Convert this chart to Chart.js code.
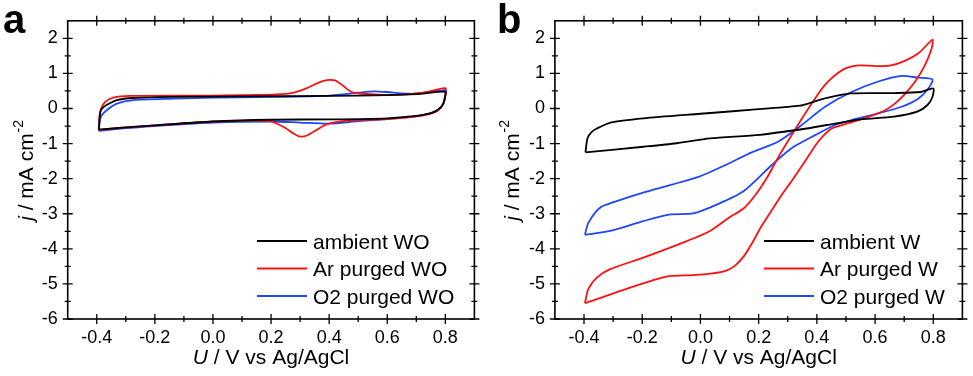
<!DOCTYPE html>
<html>
<head>
<meta charset="utf-8">
<script src="https://cdn.jsdelivr.net/npm/chart.js@4.4.0/dist/chart.umd.min.js"></script>
<style>
body { margin: 0; background: #fff; }
#wrap { position: relative; width: 973px; height: 376px; }
canvas { position: absolute; top: 0; }
</style>
</head>
<body>
<div id="wrap">
  <canvas id="chartA" width="486" height="376" style="left:0"></canvas>
  <canvas id="chartB" width="487" height="376" style="left:486px"></canvas>
</div>
<script>
// axis ticks
const xTickVals = [-0.4, -0.2, 0.0, 0.2, 0.4, 0.6, 0.8];
const xMinorVals = [-0.3, -0.1, 0.1, 0.3, 0.5, 0.7];
const yTickVals = [-6, -5, -4, -3, -2, -1, 0, 1, 2];
const yMinorVals = [-5.5, -4.5, -3.5, -2.5, -1.5, -0.5, 0.5, 1.5];

// panel a (WO)
const ambientWO_U = [-0.393, -0.39, -0.386, -0.375, -0.366, -0.331, -0.274, -0.136, 0.0, 0.2, 0.4, 0.6, 0.7, 0.8, 0.8, 0.793, 0.776, 0.747, 0.69, 0.6, 0.4, 0.2, 0.0, -0.2, -0.3, -0.393];
const ambientWO_j = [-0.6, -0.25, -0.05, 0.05, 0.1, 0.24, 0.3, 0.33, 0.34, 0.35, 0.36, 0.38, 0.41, 0.48, 0.36, 0.14, -0.03, -0.14, -0.22, -0.28, -0.31, -0.32, -0.37, -0.48, -0.54, -0.6];

const arWO_U = [-0.393, -0.39, -0.385, -0.371, -0.343, -0.285, 0.0, 0.219, 0.277, 0.323, 0.368, 0.391, 0.42, 0.449, 0.477, 0.517, 0.609, 0.724, 0.8, 0.8, 0.793, 0.776, 0.747, 0.69, 0.6, 0.5, 0.449, 0.391, 0.357, 0.323, 0.3, 0.277, 0.242, 0.196, 0.1, 0.0, -0.2, -0.3, -0.393];
const arWO_j = [-0.61, -0.19, 0.0, 0.19, 0.31, 0.36, 0.37, 0.4, 0.45, 0.58, 0.75, 0.81, 0.8, 0.64, 0.47, 0.42, 0.38, 0.45, 0.58, 0.38, 0.14, -0.05, -0.15, -0.24, -0.3, -0.33, -0.36, -0.45, -0.61, -0.77, -0.8, -0.71, -0.52, -0.36, -0.35, -0.37, -0.48, -0.54, -0.61];

const o2WO_U = [-0.393, -0.39, -0.385, -0.366, -0.331, -0.274, -0.136, 0.0, 0.2, 0.4, 0.5, 0.552, 0.6, 0.65, 0.7, 0.8, 0.8, 0.793, 0.776, 0.747, 0.69, 0.6, 0.5, 0.4, 0.3, 0.2, 0.0, -0.2, -0.3, -0.393];
const o2WO_j = [-0.64, -0.4, -0.22, -0.05, 0.14, 0.24, 0.28, 0.31, 0.33, 0.37, 0.45, 0.49, 0.47, 0.43, 0.42, 0.52, 0.4, 0.14, -0.03, -0.14, -0.23, -0.3, -0.36, -0.43, -0.4, -0.37, -0.4, -0.5, -0.56, -0.64];

// panel b (W)
const ambientW_U = [-0.395, -0.388, -0.375, -0.356, -0.309, -0.196, 0.0, 0.2, 0.342, 0.388, 0.434, 0.516, 0.665, 0.757, 0.8, 0.797, 0.78, 0.745, 0.665, 0.55, 0.434, 0.365, 0.204, 0.033, -0.082, -0.196, -0.395];
const ambientW_j = [-1.25, -0.85, -0.68, -0.57, -0.4, -0.28, -0.15, -0.02, 0.08, 0.19, 0.3, 0.43, 0.44, 0.47, 0.57, 0.33, 0.1, -0.09, -0.23, -0.31, -0.47, -0.57, -0.75, -0.85, -0.99, -1.09, -1.25];

const arW_U = [-0.397, -0.385, -0.356, -0.31, -0.196, -0.047, 0.033, 0.1, 0.148, 0.19, 0.23, 0.27, 0.313, 0.371, 0.416, 0.44, 0.47, 0.5, 0.54, 0.6, 0.65, 0.7, 0.75, 0.797, 0.794, 0.771, 0.737, 0.703, 0.668, 0.634, 0.577, 0.508, 0.451, 0.405, 0.359, 0.319, 0.28, 0.245, 0.21, 0.18, 0.15, 0.12, 0.089, 0.04, -0.025, -0.117, -0.254, -0.397];
const arW_j = [-5.55, -5.14, -4.82, -4.58, -4.25, -3.78, -3.49, -3.1, -2.85, -2.45, -1.95, -1.35, -0.76, 0.0, 0.55, 0.78, 1.0, 1.15, 1.23, 1.21, 1.22, 1.35, 1.58, 1.96, 1.7, 1.23, 0.76, 0.42, 0.14, -0.05, -0.24, -0.42, -0.57, -0.94, -1.51, -2.0, -2.45, -2.9, -3.35, -3.8, -4.2, -4.47, -4.62, -4.7, -4.75, -4.79, -5.14, -5.55];

const o2W_U = [-0.397, -0.385, -0.345, -0.288, -0.202, -0.099, -0.007, 0.084, 0.176, 0.268, 0.348, 0.428, 0.519, 0.611, 0.691, 0.748, 0.797, 0.783, 0.748, 0.691, 0.611, 0.519, 0.462, 0.394, 0.313, 0.245, 0.148, 0.056, -0.025, -0.104, -0.196, -0.31, -0.397];
const o2W_j = [-3.6, -3.26, -2.83, -2.64, -2.41, -2.17, -1.95, -1.62, -1.25, -0.94, -0.47, 0.05, 0.47, 0.77, 0.93, 0.88, 0.83, 0.57, 0.28, 0.05, -0.14, -0.33, -0.47, -0.76, -1.13, -1.61, -2.36, -2.74, -2.99, -3.02, -3.21, -3.49, -3.6];

const FONT = "'Liberation Sans', Arial, sans-serif";
const RED = '#ff1010';
const BLUE = '#1e46ff';

function pts(us, js) {
    return us.map((u, i) => ({ x: u, y: js[i] }));
}

function line(label, us, js, color) {
    return {
        label: label,
        data: pts(us, js),
        borderColor: color,
        backgroundColor: color,
        borderWidth: 1.8,
        pointRadius: 0,
        showLine: true,
        tension: 0.25,
        fill: false
    };
}

// frame, ticks on four sides, titles, legend and letter
function decoPlugin(letter, letterX, yTitleX, legendX) {
    return {
        id: 'deco' + letter,
        afterDraw(chart) {
            const ctx = chart.ctx, a = chart.chartArea;
            const xs = chart.scales.x, ys = chart.scales.y;
            ctx.save();
            ctx.strokeStyle = '#000';
            ctx.lineWidth = 1.6;
            ctx.strokeRect(a.left, a.top, a.right - a.left, a.bottom - a.top);

            ctx.lineWidth = 1.3;
            ctx.beginPath();
            const tickX = (v, L) => {
                const p = xs.getPixelForValue(v);
                ctx.moveTo(p, a.bottom - L); ctx.lineTo(p, a.bottom + L);
                ctx.moveTo(p, a.top - L); ctx.lineTo(p, a.top + L);
            };
            const tickY = (v, L) => {
                const p = ys.getPixelForValue(v);
                ctx.moveTo(a.left - L, p); ctx.lineTo(a.left + L, p);
                ctx.moveTo(a.right - L, p); ctx.lineTo(a.right + L, p);
            };
            xTickVals.forEach(v => tickX(v, 5));
            xMinorVals.forEach(v => tickX(v, 3));
            yTickVals.forEach(v => tickY(v, 5));
            yMinorVals.forEach(v => tickY(v, 3));
            ctx.stroke();

            ctx.fillStyle = '#000';
            ctx.textAlign = 'left';
            ctx.textBaseline = 'alphabetic';

            // panel letter
            ctx.font = 'bold 40px ' + FONT;
            ctx.fillText(letter, letterX, 33);

            // x title
            const cx = (a.left + a.right) / 2;
            ctx.font = 'italic 21px ' + FONT;
            const w1 = ctx.measureText('U').width;
            ctx.font = '21px ' + FONT;
            const w2 = ctx.measureText(' / V vs Ag/AgCl').width;
            let x0 = cx - (w1 + w2) / 2;
            ctx.font = 'italic 21px ' + FONT;
            ctx.fillText('U', x0, 364);
            ctx.font = '21px ' + FONT;
            ctx.fillText(' / V vs Ag/AgCl', x0 + w1, 364);

            // y title
            ctx.save();
            ctx.translate(yTitleX, (a.top + a.bottom) / 2 + 1);
            ctx.rotate(-Math.PI / 2);
            ctx.font = 'italic 21px ' + FONT;
            const j1 = ctx.measureText('j').width;
            ctx.font = '21px ' + FONT;
            const j2 = ctx.measureText(' / mA cm').width;
            ctx.font = '14px ' + FONT;
            const j3 = ctx.measureText('-2').width;
            let s = -(j1 + j2 + j3) / 2;
            ctx.font = 'italic 21px ' + FONT;
            ctx.fillText('j', s, 0);
            ctx.font = '21px ' + FONT;
            ctx.fillText(' / mA cm', s + j1, 0);
            ctx.font = '14px ' + FONT;
            ctx.fillText('-2', s + j1 + j2 + 1, -10);
            ctx.restore();

            // legend
            const rows = [241, 268.5, 296];
            chart.data.datasets.forEach((ds, i) => {
                const y = rows[i];
                ctx.strokeStyle = ds.borderColor;
                ctx.lineWidth = 2;
                ctx.beginPath();
                ctx.moveTo(legendX, y);
                ctx.lineTo(legendX + 50, y);
                ctx.stroke();
                ctx.font = '21px ' + FONT;
                ctx.fillText(ds.label, legendX + 56, y + 7.5);
            });
            ctx.restore();
        }
    };
}

function makeChart(id, datasets, areaLeft, areaRight, deco) {
    const canvas = document.getElementById(id);
    const W = canvas.width;
    return new Chart(canvas.getContext('2d'), {
        type: 'scatter',
        data: { datasets: datasets },
        options: {
            responsive: false,
            animation: false,
            devicePixelRatio: 1,
            layout: { padding: { left: 0, top: 18, right: W - areaRight, bottom: 0 } },
            plugins: { legend: { display: false }, tooltip: { enabled: false } },
            scales: {
                x: {
                    type: 'linear',
                    min: -0.5,
                    max: 0.9,
                    afterBuildTicks: s => { s.ticks = xTickVals.map(v => ({ value: v })); },
                    afterFit: s => { s.height = 376 - 319; },
                    grid: { display: false, drawTicks: false },
                    border: { display: false },
                    ticks: {
                        padding: 8,
                        color: '#000',
                        font: { family: FONT, size: 18 },
                        maxRotation: 0,
                        callback: v => v.toFixed(1)
                    }
                },
                y: {
                    type: 'linear',
                    min: -6,
                    max: 2.5,
                    afterBuildTicks: s => { s.ticks = yTickVals.map(v => ({ value: v })); },
                    afterFit: s => { s.width = areaLeft; },
                    grid: { display: false, drawTicks: false },
                    border: { display: false },
                    ticks: {
                        padding: 10,
                        color: '#000',
                        font: { family: FONT, size: 18 },
                        callback: v => String(v)
                    }
                }
            }
        },
        plugins: [deco]
    });
}

makeChart('chartA', [
    line('ambient WO', ambientWO_U, ambientWO_j, '#000'),
    line('Ar purged WO', arWO_U, arWO_j, RED),
    line('O2 purged WO', o2WO_U, o2WO_j, BLUE)
], 67.7, 474.4, decoPlugin('a', 3, 33, 257));

makeChart('chartB', [
    line('ambient W', ambientW_U, ambientW_j, '#000'),
    line('Ar purged W', arW_U, arW_j, RED),
    line('O2 purged W', o2W_U, o2W_j, BLUE)
], 68.9, 476.4, decoPlugin('b', 11, 33, 278));
</script>
</body>
</html>
